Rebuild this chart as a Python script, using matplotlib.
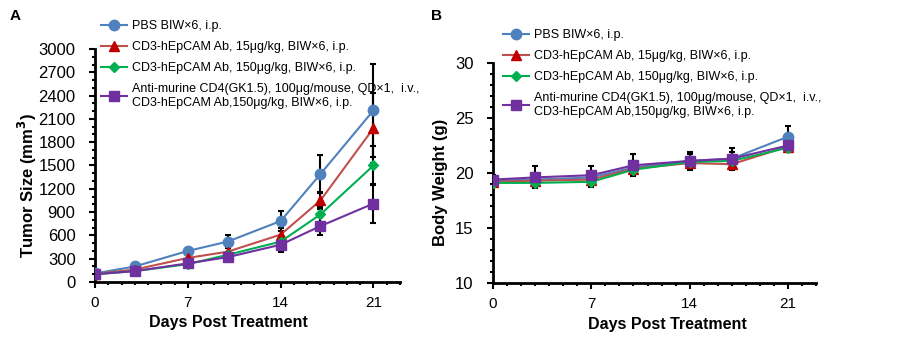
import numpy as np
import matplotlib
matplotlib.use('Agg')
import matplotlib.pyplot as plt
from matplotlib.ticker import MultipleLocator

plt.rcParams['font.family'] = ['Liberation Sans', 'DejaVu Sans']

days = [0, 3, 7, 10, 14, 17, 21]
labels = ['PBS BIW\u00d76, i.p.',
          'CD3-hEpCAM Ab, 15\u03bcg/kg, BIW\u00d76, i.p.',
          'CD3-hEpCAM Ab, 150\u03bcg/kg, BIW\u00d76, i.p.',
          'Anti-murine CD4(GK1.5), 100\u03bcg/mouse, QD\u00d71,  i.v.,\nCD3-hEpCAM Ab,150\u03bcg/kg, BIW\u00d76, i.p.']

# tumor size (mm3)
tumor_pbs = [110, 200, 400, 520, 785, 1390, 2210]
tumor_15 = [105, 160, 310, 390, 610, 1050, 1980]
tumor_150 = [100, 140, 230, 350, 520, 870, 1500]
tumor_cd4 = [100, 140, 240, 320, 480, 720, 1010]
tumor_err_pbs = [10, 25, 40, 85, 130, 250, 600]
tumor_err_15 = [10, 20, 40, 60, 90, 110, 450]
tumor_err_150 = [10, 20, 30, 40, 70, 100, 250]
tumor_err_cd4 = [10, 20, 30, 40, 90, 120, 250]

# body weight (g)
bw_pbs = [19.3, 19.4, 19.6, 20.5, 21.1, 21.3, 23.3]
bw_15 = [19.2, 19.3, 19.4, 20.4, 20.9, 20.8, 22.4]
bw_150 = [19.1, 19.1, 19.2, 20.3, 21.0, 21.1, 22.3]
bw_cd4 = [19.4, 19.6, 19.8, 20.7, 21.1, 21.3, 22.5]
bw_err_pbs = [0.4, 0.5, 0.5, 0.6, 0.6, 0.6, 1.0]
bw_err_15 = [0.3, 0.4, 0.4, 0.4, 0.4, 0.4, 0.4]
bw_err_150 = [0.3, 0.4, 0.5, 0.4, 0.4, 0.4, 0.4]
bw_err_cd4 = [0.4, 1.0, 0.8, 1.0, 0.8, 1.0, 0.5]

colors = ['#4F81BD', '#C0504D', '#00B050', '#7030A0']
mfcs = ['#4F81BD', '#C00000', '#00B050', '#7030A0']
markers = ['o', '^', 'D', 's']
msizes = [7.5, 7, 5, 7.5]

fig = plt.figure(figsize=(9.06, 3.45), dpi=100)
axA = fig.add_axes([0.1049, 0.1826, 0.3366, 0.6754])
axB = fig.add_axes([0.5442, 0.1797, 0.3565, 0.6377])


def draw(ax, series, errs):
    for y, e in zip(series, errs):
        ax.errorbar(days, y, yerr=e, fmt='none', ecolor='black', elinewidth=1.5,
                    capsize=2.5, capthick=1.5, zorder=2)
    handles = []
    for i, y in enumerate(series):
        h, = ax.plot(days, y, color=colors[i], lw=1.5, marker=markers[i],
                     ms=msizes[i], mfc=mfcs[i], mec=mfcs[i], zorder=3 + i)
        handles.append(h)
    for s in ['top', 'right']:
        ax.spines[s].set_visible(False)
    for s in ['left', 'bottom']:
        ax.spines[s].set_linewidth(2)
    ax.set_xlim(0, 23)
    ax.xaxis.set_major_locator(MultipleLocator(7))
    ax.xaxis.set_minor_locator(MultipleLocator(1))
    ax.tick_params(which='major', length=4, width=1.5, labelsize=11)
    ax.tick_params(which='minor', length=2.5, width=1.5)
    ax.tick_params(axis='x', pad=6)
    ax.tick_params(axis='y', pad=10)
    return handles


hA = draw(axA, [tumor_pbs, tumor_15, tumor_150, tumor_cd4],
          [tumor_err_pbs, tumor_err_15, tumor_err_150, tumor_err_cd4])
axA.set_ylim(0, 3000)
axA.yaxis.set_major_locator(MultipleLocator(300))
axA.yaxis.set_minor_locator(MultipleLocator(100))
axA.tick_params(axis='y', labelsize=12)

hB = draw(axB, [bw_pbs, bw_15, bw_150, bw_cd4],
          [bw_err_pbs, bw_err_15, bw_err_150, bw_err_cd4])
axB.set_ylim(10, 30)
axB.yaxis.set_major_locator(MultipleLocator(5))
axB.yaxis.set_minor_locator(MultipleLocator(1))
axB.tick_params(axis='y', labelsize=12)

fig.text(228 / 906, 1 - 323 / 345, 'Days Post Treatment', ha='center', va='center',
         fontsize=11.5, fontweight='bold')
fig.text(667 / 906, 1 - 325 / 345, 'Days Post Treatment', ha='center', va='center',
         fontsize=11.5, fontweight='bold')
fig.text(27 / 906, 1 - 186 / 345, 'Tumor Size (mm$^\\mathbf{3}$)', ha='center', va='center',
         rotation=90, fontsize=12, fontweight='bold')
fig.text(440 / 906, 1 - 182 / 345, 'Body Weight (g)', ha='center', va='center',
         rotation=90, fontsize=12, fontweight='bold')
fig.text(15 / 906, 1 - 16 / 345, 'A', ha='center', va='center', fontsize=11, fontweight='bold')
fig.text(437 / 906, 1 - 16 / 345, 'B', ha='center', va='center', fontsize=11, fontweight='bold')

for ax, h, x0, y0 in [(axA, hA, 101, 20), (axB, hB, 503, 29)]:
    leg = fig.legend(h, labels, loc='upper left',
                     bbox_to_anchor=(x0 / 906, 1 - y0 / 345), frameon=False,
                     fontsize=9, handlelength=2.1, handletextpad=0.4,
                     labelspacing=0.72, borderpad=0, borderaxespad=0)

fig.savefig('out.png', dpi=100)
